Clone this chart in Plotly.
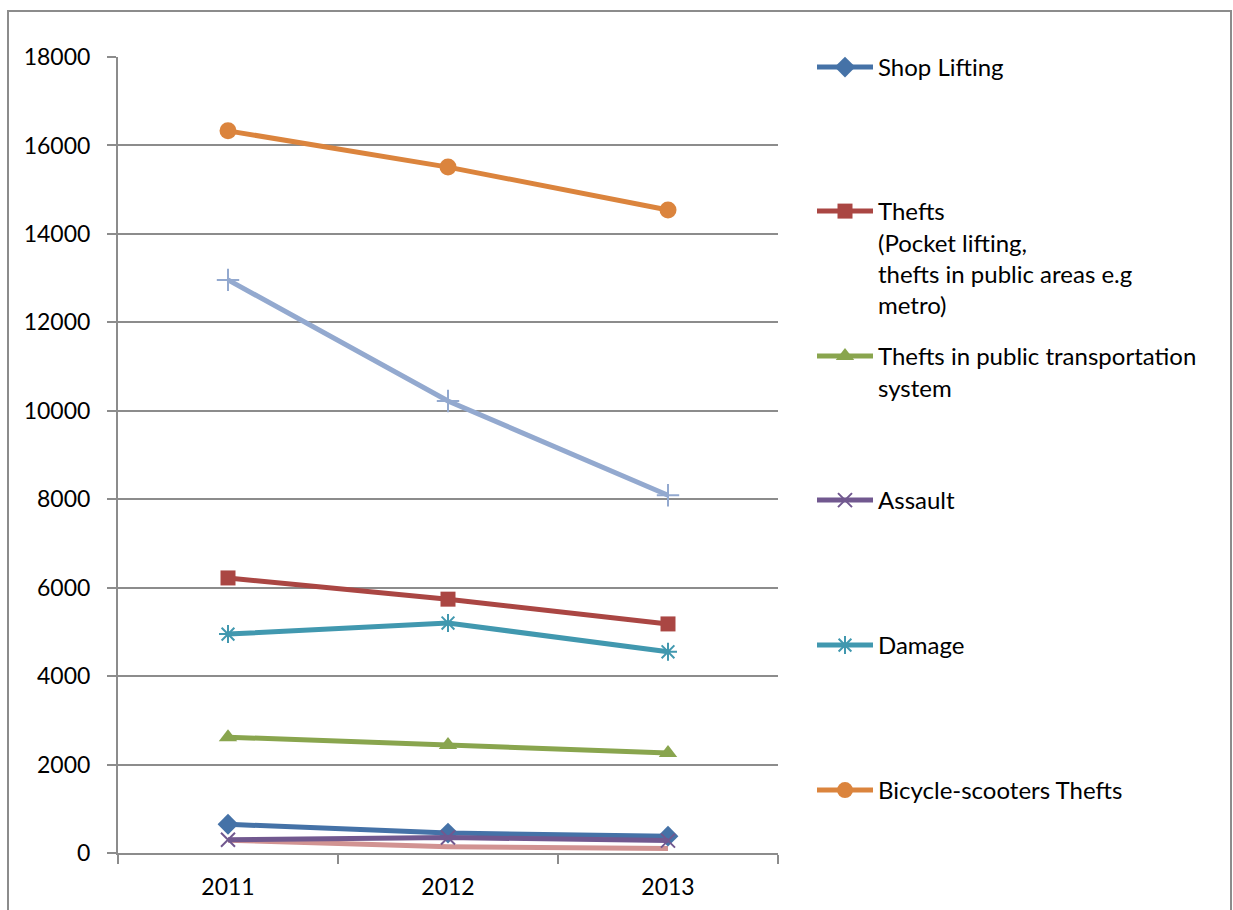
import plotly.graph_objects as go

years = ["2011", "2012", "2013"]

shop_lifting = [650, 450, 380]
thefts = [6220, 5740, 5180]
thefts_transport = [2620, 2440, 2260]
assault = [300, 350, 280]
damage = [4950, 5200, 4550]
bicycle_thefts = [16330, 15510, 14540]
other_blue = [12960, 10220, 8090]
other_pink = [290, 140, 100]

y_ticks = [0, 2000, 4000, 6000, 8000, 10000, 12000, 14000, 16000, 18000]

W, H = 1233, 910
L, R, T, B = 118, 778, 57, 853
FONT = "Lato"
GRID = "#8c8c8c"


def px_x(px):
    return (px - L) / (R - L)


def px_y(py):
    return (B - py) / (B - T)


series = [
    dict(name="Shop Lifting", y=shop_lifting, color="#4572A7",
         symbol="diamond", size=16, lw=0, legend="legend", ly=45),
    dict(name="Thefts<br>(Pocket lifting,<br>thefts in public areas e.g<br>metro)",
         y=thefts, color="#AA4643", symbol="square", size=15, lw=0,
         legend="legend2", ly=189),
    dict(name="Thefts in public transportation<br>system", y=thefts_transport,
         color="#89A54E", symbol="triangle-up", size=16, lw=0,
         legend="legend3", ly=334),
    dict(name="Assault", y=assault, color="#71588F", symbol="x-thin-open",
         size=14, lw=2, legend="legend4", ly=478),
    dict(name="Damage", y=damage, color="#4198AF", symbol="asterisk-open",
         size=15, lw=2, legend="legend5", ly=623),
    dict(name="Bicycle-scooters Thefts", y=bicycle_thefts, color="#DB843D",
         symbol="circle", size=17, lw=0, legend="legend6", ly=768),
]

fig = go.Figure()

# series without a legend entry
fig.add_trace(go.Scatter(
    x=years, y=other_blue, mode="lines+markers", showlegend=False,
    line=dict(color="#93A9CF", width=5),
    marker=dict(symbol="cross-thin-open", size=16,
                line=dict(color="#93A9CF", width=2)),
))

for s in series:
    if s["name"] == "Shop Lifting":
        # pink series drawn under the shop lifting line
        fig.add_trace(go.Scatter(
            x=years, y=other_pink, mode="lines", showlegend=False,
            line=dict(color="#D19392", width=5),
        ))
    fig.add_trace(go.Scatter(
        x=years, y=s["y"], name=s["name"], mode="lines+markers",
        legend=s["legend"],
        line=dict(color=s["color"], width=5),
        marker=dict(symbol=s["symbol"], size=s["size"], color=s["color"],
                    line=dict(color=s["color"], width=s["lw"])),
    ))

legend_layout = {}
for s in series:
    legend_layout[s["legend"]] = dict(
        x=px_x(812), y=px_y(s["ly"]), xanchor="left", yanchor="top",
        valign="top", itemwidth=56, bgcolor="rgba(0,0,0,0)",
        font=dict(family=FONT, size=24, color="#000000"),
        tracegroupgap=0,
    )

fig.update_layout(
    width=W, height=H,
    margin=dict(l=L, r=W - R, t=T, b=H - B, autoexpand=False),
    paper_bgcolor="white", plot_bgcolor="white",
    font=dict(family=FONT, size=23, color="#000000"),
    xaxis=dict(
        type="category", tickson="boundaries", ticks="outside", ticklen=9,
        tickcolor=GRID, tickwidth=2, showline=True, linecolor=GRID,
        linewidth=2, showgrid=False, zeroline=False,
        ticklabelstandoff=12,
        tickfont=dict(family=FONT, size=23), range=[-0.5, 2.5],
    ),
    yaxis=dict(
        range=[0, 18000], tickvals=y_ticks, ticktext=[str(v) for v in y_ticks],
        ticks="outside", ticklen=9, tickcolor=GRID, tickwidth=2,
        showline=True, linecolor=GRID, linewidth=2, showgrid=True,
        gridcolor=GRID, gridwidth=2, zeroline=False,
        ticklabelstandoff=12, tickfont=dict(family=FONT, size=23),
    ),
    shapes=[dict(type="rect", xref="paper", yref="paper",
                 x0=px_x(8), x1=px_x(1231), y0=px_y(930), y1=px_y(11),
                 line=dict(color="#8c8c8c", width=2), layer="below")],
    **legend_layout,
)

fig.write_html("out.html")
